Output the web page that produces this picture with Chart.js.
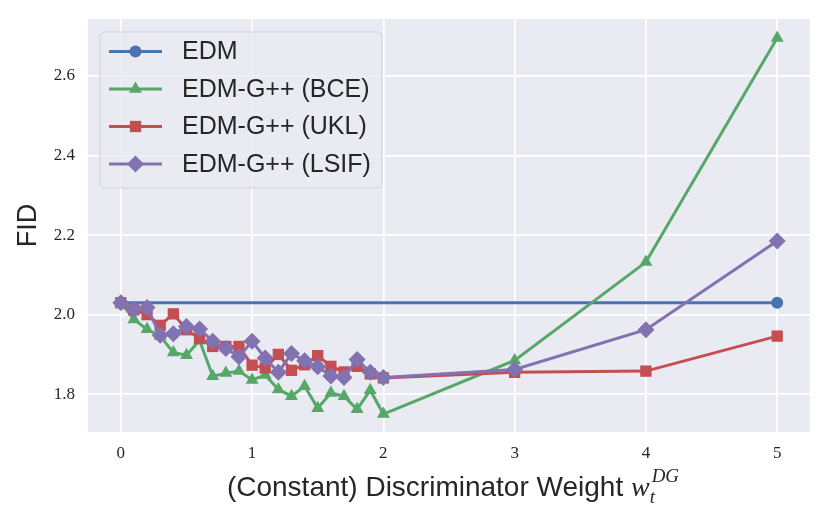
<!DOCTYPE html>
<html>
<head>
<meta charset="utf-8">
<script src="https://cdn.jsdelivr.net/npm/chart.js@4/dist/chart.umd.min.js"></script>
<style>
  html, body { margin: 0; padding: 0; background: #fff; }
  #wrap { width: 830px; height: 519px; }
</style>
</head>
<body>
<div id="wrap"><canvas id="fidChart" width="830" height="519"></canvas></div>
<script>
// data
const xWeights = [0, 0.1, 0.2, 0.3, 0.4, 0.5, 0.6, 0.7, 0.8, 0.9, 1.0, 1.1, 1.2, 1.3, 1.4, 1.5, 1.6, 1.7, 1.8, 1.9, 2.0, 3, 4, 5];
const edmX = [0, 5];
const edmFid = [2.03, 2.03];
const bceFid = [2.03, 1.988, 1.963, 1.946, 1.905, 1.898, 1.935, 1.845, 1.853, 1.858, 1.836, 1.848, 1.812, 1.795, 1.82, 1.765, 1.803, 1.795, 1.762, 1.81, 1.75, 1.885, 2.132, 2.695];
const uklFid = [2.03, 2.012, 2.0, 1.973, 2.002, 1.962, 1.94, 1.92, 1.92, 1.92, 1.873, 1.866, 1.9, 1.86, 1.874, 1.897, 1.87, 1.856, 1.87, 1.851, 1.841, 1.855, 1.858, 1.946];
const lsifFid = [2.03, 2.013, 2.018, 1.948, 1.952, 1.97, 1.964, 1.933, 1.915, 1.894, 1.933, 1.891, 1.855, 1.902, 1.884, 1.869, 1.846, 1.842, 1.887, 1.855, 1.842, 1.862, 1.962, 2.185];
const seriesNames = ['EDM', 'EDM-G++ (BCE)', 'EDM-G++ (UKL)', 'EDM-G++ (LSIF)'];
const xTicks = [0, 1, 2, 3, 4, 5];
const xTickLabels = ['0', '1', '2', '3', '4', '5'];
const yTicks = [1.8, 2.0, 2.2, 2.4, 2.6];
const yTickLabels = ['1.8', '2.0', '2.2', '2.4', '2.6'];

const colors = ['#4C72B0', '#55A868', '#C44E52', '#8172B2'];
const markers = ['circle', 'triangle', 'rect', 'rectRot'];
const markerSize = [6, 7.5, 8, 8.5];
const lineW = 3;

const toPoints = (xs, ys) => ys.map((y, i) => ({ x: xs[i], y: y }));
const seriesData = [
  toPoints(edmX, edmFid),
  toPoints(xWeights, bceFid),
  toPoints(xWeights, uklFid),
  toPoints(xWeights, lsifFid)
];

const datasets = seriesData.map((pts, i) => ({
  label: seriesNames[i],
  data: pts,
  borderColor: colors[i],
  backgroundColor: colors[i],
  borderWidth: lineW,
  pointStyle: markers[i],
  pointRadius: markerSize[i],
  pointBorderWidth: 0,
  pointBackgroundColor: colors[i],
  tension: 0,
  order: 3 - i   // later series drawn on top, like matplotlib
}));

function drawMarker(ctx, style, r, x, y, color) {
  ctx.save();
  ctx.fillStyle = color;
  ctx.beginPath();
  if (style === 'circle') {
    ctx.arc(x, y, r, 0, Math.PI * 2);
  } else if (style === 'triangle') {
    ctx.moveTo(x, y - r);
    ctx.lineTo(x + 0.866 * r, y + 0.5 * r);
    ctx.lineTo(x - 0.866 * r, y + 0.5 * r);
  } else if (style === 'rect') {
    const s = r * Math.SQRT1_2;
    ctx.rect(x - s, y - s, 2 * s, 2 * s);
  } else {
    ctx.moveTo(x, y - r);
    ctx.lineTo(x + r, y);
    ctx.lineTo(x, y + r);
    ctx.lineTo(x - r, y);
  }
  ctx.closePath();
  ctx.fill();
  ctx.restore();
}

const decorPlugin = {
  id: 'decor',
  beforeDraw(chart) {
    const { ctx, chartArea: a } = chart;
    ctx.save();
    ctx.fillStyle = '#EAEAF2';
    ctx.fillRect(a.left, a.top, a.right - a.left, a.bottom - a.top);
    ctx.restore();
  },
  afterDraw(chart) {
    const { ctx, chartArea: a } = chart;
    ctx.save();

    // legend box
    const bx = 100, by = 32, bw = 282, bh = 156;
    ctx.beginPath();
    ctx.roundRect(bx, by, bw, bh, 5);
    ctx.fillStyle = 'rgba(234,234,242,0.8)';
    ctx.fill();
    ctx.strokeStyle = 'rgba(204,204,204,0.8)';
    ctx.lineWidth = 1;
    ctx.stroke();

    const rowY = [51.5, 89, 126.5, 164];
    ctx.font = '25px "Liberation Sans", Arial, sans-serif';
    ctx.textBaseline = 'middle';
    ctx.textAlign = 'left';
    seriesNames.forEach((name, i) => {
      const y = rowY[i];
      ctx.strokeStyle = colors[i];
      ctx.lineWidth = lineW;
      ctx.beginPath();
      ctx.moveTo(109, y);
      ctx.lineTo(162, y);
      ctx.stroke();
      drawMarker(ctx, markers[i], markerSize[i], 135.5, y, colors[i]);
      ctx.fillStyle = '#262626';
      ctx.fillText(name, 182, y + 1);
    });

    // y title
    ctx.save();
    ctx.translate(28, (a.top + a.bottom) / 2);
    ctx.rotate(-Math.PI / 2);
    ctx.font = '27px "Liberation Sans", Arial, sans-serif';
    ctx.textAlign = 'center';
    ctx.textBaseline = 'middle';
    ctx.fillStyle = '#262626';
    ctx.fillText('FID', 0, 1);
    ctx.restore();

    // x title with w_t^{DG}
    const mainTxt = '(Constant) Discriminator Weight ';
    const mainFont = '28px "Liberation Sans", Arial, sans-serif';
    const wFont = 'italic 28px "Liberation Serif", serif';
    const smallFont = 'italic 19px "Liberation Serif", serif';
    ctx.font = mainFont; const w1 = ctx.measureText(mainTxt).width;
    ctx.font = wFont; const w2 = ctx.measureText('w').width;
    ctx.font = smallFont;
    const w3 = Math.max(ctx.measureText('t').width, ctx.measureText('DG').width + 2);
    let x0 = (a.left + a.right) / 2 + 4 - (w1 + w2 + w3) / 2;
    const base = 496;
    ctx.textBaseline = 'alphabetic';
    ctx.fillStyle = '#262626';
    ctx.font = mainFont; ctx.fillText(mainTxt, x0, base);
    ctx.font = wFont; ctx.fillText('w', x0 + w1, base);
    ctx.font = smallFont;
    ctx.fillText('t', x0 + w1 + w2, base + 7);
    ctx.fillText('DG', x0 + w1 + w2 + 2, base - 14);
    ctx.restore();
  }
};

new Chart(document.getElementById('fidChart'), {
  type: 'line',
  data: { datasets: datasets },
  plugins: [decorPlugin],
  options: {
    responsive: false,
    animation: false,
    devicePixelRatio: 1,
    layout: { padding: { top: 19, right: 20, left: 0, bottom: 0 } },
    plugins: {
      legend: { display: false },
      tooltip: { enabled: false },
      title: { display: false }
    },
    scales: {
      x: {
        type: 'linear',
        min: -0.25,
        max: 5.25,
        afterFit: (s) => { s.height = 87; s.paddingLeft = 0; s.paddingRight = 0; },
        afterBuildTicks: (s) => { s.ticks = xTicks.map(v => ({ value: v })); },
        ticks: {
          padding: 11,
          color: '#262626',
          font: { family: '"Liberation Serif", serif', size: 17 },
          callback: (v) => xTickLabels[xTicks.indexOf(v)]
        },
        grid: { color: '#FFFFFF', lineWidth: 1.7, drawTicks: false },
        border: { display: false }
      },
      y: {
        type: 'linear',
        min: 1.705,
        max: 2.743,
        afterFit: (s) => { s.width = 88; s.paddingTop = 0; s.paddingBottom = 0; },
        afterBuildTicks: (s) => { s.ticks = yTicks.map(v => ({ value: v })); },
        ticks: {
          padding: 13,
          color: '#262626',
          font: { family: '"Liberation Serif", serif', size: 17 },
          callback: (v) => yTickLabels[yTicks.indexOf(v)]
        },
        grid: { color: '#FFFFFF', lineWidth: 1.7, drawTicks: false },
        border: { display: false }
      }
    }
  }
});
</script>
</body>
</html>
